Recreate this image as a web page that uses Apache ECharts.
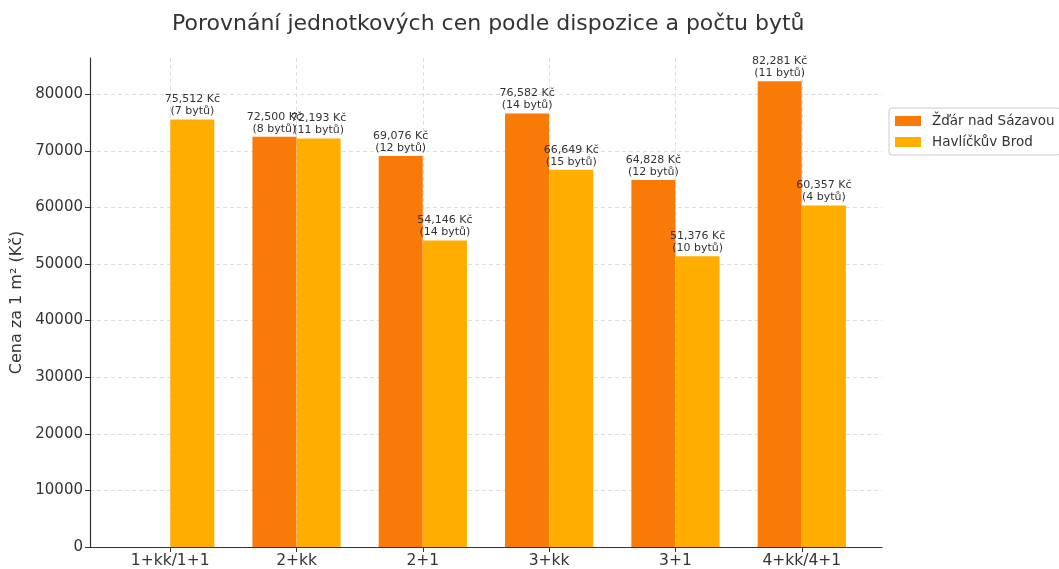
<!DOCTYPE html>
<html>
<head>
<meta charset="utf-8">
<script src="https://cdn.jsdelivr.net/npm/echarts@6/dist/echarts.min.js"></script>
<style>html,body{margin:0;padding:0;background:#fff;}#c{width:1059px;height:569px;}</style>
</head>
<body>
<div id="c"></div>
<script>
const categories = ['1+kk/1+1', '2+kk', '2+1', '3+kk', '3+1', '4+kk/4+1'];
const seriesNames = ['Žďár nad Sázavou', 'Havlíčkův Brod'];
const zdarPrices = [null, 72500, 69076, 76582, 64828, 82281];
const zdarCounts = [null, 8, 12, 14, 12, 11];
const brodPrices = [75512, 72193, 54146, 66649, 51376, 60357];
const brodCounts = [7, 11, 14, 15, 10, 4];
const yTicks = [0, 10000, 20000, 30000, 40000, 50000, 60000, 70000, 80000];

const font = 'DejaVu Sans';
const halfBar = 0.175;
const maxVal = Math.max(...zdarPrices.filter(v => v != null), ...brodPrices) * 1.05;

function fmt(v) { return v.toLocaleString('en-US') + ' Kč'; }
function makeData(prices, counts, offset) {
  const out = [];
  prices.forEach((p, i) => {
    if (p != null) out.push({ value: [i + offset, p], cnt: counts[i] });
  });
  return out;
}

const chart = echarts.init(document.getElementById('c'), null, { renderer: 'canvas' });
const labelCfg = {
  show: true,
  position: 'top',
  distance: 2,
  fontFamily: font,
  fontSize: 11,
  lineHeight: 12,
  color: '#333',
  formatter: p => fmt(p.value[1]) + '\n(' + p.data.cnt + ' bytů)'
};
const gridLine = { show: true, lineStyle: { color: '#d4d4d4', type: [4, 3], width: 0.8 } };
chart.setOption({
  animation: false,
  textStyle: { fontFamily: font },
  title: {
    text: 'Porovnání jednotkových cen podle dispozice a počtu bytů',
    left: 167, top: 8,
    textStyle: { fontFamily: font, fontSize: 22, fontWeight: 'normal', color: '#333' }
  },
  legend: {
    data: seriesNames,
    orient: 'vertical',
    left: 889, top: 108,
    itemWidth: 26, itemHeight: 10, itemGap: 7,
    padding: [6, 6, 6, 6],
    borderColor: '#ccc', borderWidth: 1, borderRadius: 3,
    textStyle: { fontFamily: font, fontSize: 13.5, color: '#333', padding: [0, 0, 0, 6] },
    icon: 'rect'
  },
  grid: { left: 90, right: 177, top: 58, bottom: 16, containLabel: false },
  xAxis: {
    type: 'value',
    min: -0.635, max: 5.635,
    axisLine: { show: true, onZero: false, lineStyle: { color: '#333', width: 1.2 } },
    axisTick: { show: true, customValues: categories.map((c, i) => i), length: 5, inside: false, lineStyle: { color: '#333' } },
    axisLabel: {
      customValues: categories.map((c, i) => i),
      formatter: v => categories[Math.round(v)] || '',
      fontFamily: font, fontSize: 15.5, color: '#333', margin: 6
    },
    splitLine: gridLine
  },
  yAxis: {
    type: 'value',
    min: 0, max: maxVal, interval: 10000,
    name: 'Cena za 1 m² (Kč)',
    nameLocation: 'middle', nameGap: 62, nameRotate: 90,
    nameTextStyle: { fontFamily: font, fontSize: 16, color: '#333' },
    axisLine: { show: true, onZero: false, lineStyle: { color: '#333', width: 1.2 } },
    axisTick: { show: true, customValues: yTicks, length: 5, lineStyle: { color: '#333' } },
    axisLabel: {
      customValues: yTicks,
      formatter: v => String(v),
      fontFamily: font, fontSize: 15, color: '#333', margin: 7
    },
    splitLine: gridLine
  },
  series: [
    {
      name: seriesNames[0], type: 'bar',
      data: makeData(zdarPrices, zdarCounts, -halfBar),
      barWidth: 44, barGap: '-100%',
      itemStyle: { color: '#F97A07' },
      label: labelCfg
    },
    {
      name: seriesNames[1], type: 'bar',
      data: makeData(brodPrices, brodCounts, halfBar),
      barWidth: 44, barGap: '-100%',
      itemStyle: { color: '#FFAE00' },
      label: labelCfg
    }
  ]
});
</script>
</body>
</html>
